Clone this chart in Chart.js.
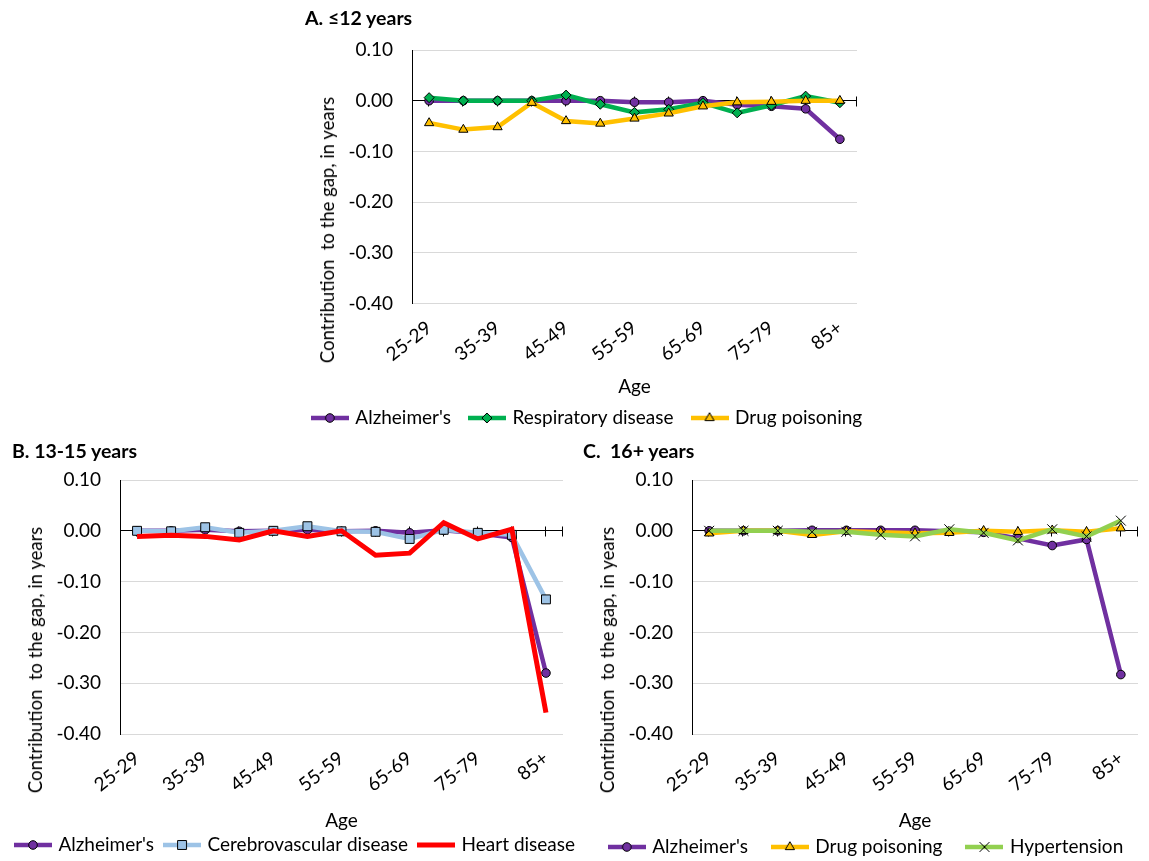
<!DOCTYPE html>
<html>
<head>
<meta charset="utf-8">
<script src="https://cdn.jsdelivr.net/npm/chart.js@4.4.1/dist/chart.umd.min.js"></script>
<style>
  html, body { margin: 0; padding: 0; background: #fff; overflow: hidden; }
  #page { position: relative; width: 1149px; height: 861px; overflow: hidden; }
  canvas { position: absolute; }
  .ptitle { position: absolute; font: bold 19.5px Lato, "Liberation Sans", sans-serif; line-height: 20px; white-space: pre; color: #000; }
  .ytitle { position: absolute; font: 18.5px Lato, "Liberation Sans", sans-serif; line-height: 20px; white-space: pre; color: #000;
            transform: translate(-50%, -50%) rotate(-90deg); }
</style>
</head>
<body>
<div id="page">
  <canvas id="chartA" width="600" height="440" style="left:288px; top:0px;"></canvas>
  <canvas id="chartB" width="592" height="440" style="left:0px; top:430px;"></canvas>
  <canvas id="chartC" width="600" height="440" style="left:567px; top:430px;"></canvas>

  <div class="ptitle" style="left:305px; top:8px;">A. ≤12 years</div>
  <div class="ptitle" style="left:12px; top:441px;">B. 13-15 years</div>
  <div class="ptitle" style="left:583px; top:441px;">C.  16+ years</div>

  <div class="ytitle" style="left:327px; top:230px;">Contribution  to the gap, in years</div>
  <div class="ytitle" style="left:35px; top:660px;">Contribution  to the gap, in years</div>
  <div class="ytitle" style="left:607px; top:660px;">Contribution  to the gap, in years</div>
</div>

<script>
// Age groups on the horizontal axis (every other one is labelled)
const ageGroups = ['25-29', '30-34', '35-39', '40-44', '45-49', '50-54', '55-59',
                   '60-64', '65-69', '70-74', '75-79', '80-84', '85+'];

// Panel A: ≤12 years of schooling
const alzheimerA   = [0.000, 0.000, 0.000, 0.000, 0.000, 0.000, -0.003, -0.003, 0.000, -0.008, -0.011, -0.016, -0.076];
const respiratoryA = [0.006, 0.000, 0.000, 0.000, 0.011, -0.007, -0.023, -0.017, -0.004, -0.024, -0.009, 0.009, -0.004];
const drugA        = [-0.044, -0.057, -0.052, -0.004, -0.040, -0.045, -0.035, -0.025, -0.011, -0.003, -0.002, 0.000, 0.000];

// Panel B: 13-15 years
const alzheimerB   = [0.000, 0.000, 0.002, -0.001, 0.000, 0.002, -0.001, 0.000, -0.004, 0.001, -0.005, -0.013, -0.280];
const cerebroB     = [0.000, -0.001, 0.007, -0.004, 0.000, 0.009, -0.001, -0.002, -0.016, 0.002, -0.004, -0.008, -0.135];
const heartB       = [-0.011, -0.009, -0.011, -0.018, 0.000, -0.011, 0.000, -0.048, -0.044, 0.016, -0.016, 0.003, -0.358];

// Panel C: 16+ years
const alzheimerC    = [0.000, 0.000, 0.000, 0.001, 0.001, 0.001, 0.001, -0.001, -0.003, -0.015, -0.029, -0.017, -0.283];
const drugC         = [-0.005, 0.000, 0.000, -0.008, -0.001, -0.003, -0.005, -0.004, 0.000, -0.002, 0.001, -0.002, 0.005];
const hypertensionC = [0.000, 0.000, 0.000, -0.002, -0.002, -0.008, -0.011, 0.003, -0.004, -0.019, 0.003, -0.011, 0.020];

// Value axis range
const yMin = -0.40, yMax = 0.10, yStep = 0.10;

const FONT = 'Lato, "Liberation Sans", sans-serif';
const FONT_SIZE = 19;
const ROTATION = 38;

// Line / marker looks per cause of death
const LOOK = {
  alzheimer:    { color: '#7030A0', width: 4.5, point: 'circle',   radius: 4.3 },
  respiratory:  { color: '#00B050', width: 4.5, point: 'rectRot',  radius: 5 },
  drug:         { color: '#FFC000', width: 4.5, point: 'triangle', radius: 5.3 },
  cerebro:      { color: '#9DC3E6', width: 4.5, point: 'rect',     radius: 6.3 },
  heart:        { color: '#FF0000', width: 5,   point: null,       radius: 0 },
  hypertension: { color: '#92D050', width: 4.5, point: 'crossRot', radius: 7 }
};

// Marker outline used for the legend samples (same geometry as the chart points)
function markerPath(g, type, x, y, r, fill) {
  g.beginPath();
  if (type === 'circle') {
    g.arc(x, y, r, 0, Math.PI * 2);
  } else if (type === 'rectRot') {
    g.moveTo(x - r, y); g.lineTo(x, y - r); g.lineTo(x + r, y); g.lineTo(x, y + r); g.closePath();
  } else if (type === 'triangle') {
    for (let k = 0; k < 3; k++) {
      const a = k * 2 * Math.PI / 3;
      const px = x + Math.sin(a) * r, py = y - Math.cos(a) * r;
      if (k === 0) g.moveTo(px, py); else g.lineTo(px, py);
    }
    g.closePath();
  } else if (type === 'rect') {
    const s = r * Math.SQRT1_2;
    g.rect(x - s, y - s, 2 * s, 2 * s);
  } else if (type === 'crossRot') {
    const s = r * Math.SQRT1_2;
    g.moveTo(x - s, y - s); g.lineTo(x + s, y + s);
    g.moveTo(x + s, y - s); g.lineTo(x - s, y + s);
  }
  if (type !== 'crossRot') { g.fillStyle = fill; g.fill(); }
  g.strokeStyle = '#000'; g.lineWidth = 1; g.stroke();
}

const SAMPLE_W = 38;
function legendSample(look) {
  const c = document.createElement('canvas');
  c.width = SAMPLE_W; c.height = 16;
  const g = c.getContext('2d');
  g.strokeStyle = look.color; g.lineWidth = look.width;
  g.beginPath(); g.moveTo(0, 8); g.lineTo(SAMPLE_W, 8); g.stroke();
  if (look.point) markerPath(g, look.point, SAMPLE_W / 2, 8, look.radius, look.color);
  return c;
}

// Black zero line tick marks of the category axis
const zeroTicks = {
  id: 'zeroTicks',
  beforeDatasetsDraw(chart) {
    const { ctx, chartArea } = chart;
    const xs = chart.scales.x, ys = chart.scales.y;
    const y0 = Math.round(ys.getPixelForValue(0)) + 0.5;
    const pos = ageGroups.map((_, i) => xs.getPixelForValue(i));
    pos.push(chartArea.right);
    ctx.save();
    ctx.strokeStyle = '#000';
    ctx.lineWidth = 1;
    ctx.beginPath();
    pos.forEach(px => {
      const p = Math.round(px) - 0.5;
      ctx.moveTo(p, y0 - 5); ctx.lineTo(p, y0 + 5);
    });
    ctx.stroke();
    ctx.restore();
  }
};

function makeChart(p) {
  const samples = p.series.map(s => legendSample(s.look));
  const n = p.series.length;
  return new Chart(document.getElementById(p.id), {
    type: 'line',
    data: {
      labels: ageGroups,
      datasets: p.series.map((s, i) => ({
        label: s.label,
        data: s.values,
        xAxisID: 'x',
        yAxisID: 'y',
        borderColor: s.look.color,
        backgroundColor: s.look.color,
        borderWidth: s.look.width,
        pointStyle: s.look.point || false,
        pointRadius: s.look.point ? s.look.radius : 0,
        pointHoverRadius: s.look.point ? s.look.radius : 0,
        pointBackgroundColor: s.look.color,
        pointBorderColor: '#000',
        pointBorderWidth: 1,
        tension: 0,
        fill: false,
        order: n - i
      }))
    },
    options: {
      responsive: false,
      animation: false,
      devicePixelRatio: 1,
      events: [],
      layout: { padding: { left: 0, right: 0, top: p.top, bottom: p.legendBottom } },
      scales: {
        x: {
          type: 'category',
          offset: true,
          grid: { display: false },
          border: { display: false },
          ticks: {
            autoSkip: false,
            minRotation: ROTATION,
            maxRotation: ROTATION,
            padding: p.xTickPad,
            color: '#000',
            font: { family: FONT, size: FONT_SIZE },
            callback: (v, i) => (i % 2 === 0 ? ageGroups[i] : '')
          },
          title: {
            display: true,
            text: 'Age',
            color: '#000',
            font: { family: FONT, size: FONT_SIZE },
            padding: { top: 0, bottom: p.agePad }
          },
          afterFit: s => { s.height = p.xHeight; }
        },
        y: {
          position: 'left',
          min: yMin,
          max: yMax,
          ticks: {
            stepSize: yStep,
            padding: 19,
            color: '#000',
            font: { family: FONT, size: FONT_SIZE },
            callback: v => (Math.abs(v) < 1e-9 ? 0 : v).toFixed(2)
          },
          grid: {
            drawTicks: false,
            lineWidth: 1,
            color: c => (Math.abs(c.tick.value) < 1e-9 ? '#000' : '#D9D9D9')
          },
          border: { display: true, color: '#000', width: 1 },
          afterFit: s => { s.width = p.yWidth; }
        },
        yR: {
          position: 'right',
          grid: { display: false, drawTicks: false },
          border: { display: false },
          ticks: { display: false },
          afterFit: s => { s.width = p.rightPad; }
        }
      },
      plugins: {
        tooltip: { enabled: false },
        legend: {
          position: 'bottom',
          align: 'center',
          labels: {
            usePointStyle: true,
            pointStyleWidth: 32,
            padding: p.legendGap,
            color: '#000',
            font: { family: FONT, size: FONT_SIZE },
            generateLabels: chart => chart.data.datasets.map((ds, i) => ({
              text: ds.label,
              pointStyle: samples[i],
              datasetIndex: i,
              hidden: false,
              lineWidth: 0,
              strokeStyle: 'rgba(0,0,0,0)',
              fillStyle: 'rgba(0,0,0,0)',
              fontColor: '#000'
            }))
          }
        }
      }
    },
    plugins: [zeroTicks]
  });
}

// Legend text centre = canvas height - legendBottom - 19.5 ; legend top = centre - legendGap - 9.5
makeChart({
  id: 'chartA', top: 50, legendBottom: 2.5, legendGap: 20, xHeight: 85, agePad: -10, xTickPad: 5,
  yWidth: 124, rightPad: 31,
  series: [
    { label: "Alzheimer's", values: alzheimerA, look: LOOK.alzheimer },
    { label: 'Respiratory disease', values: respiratoryA, look: LOOK.respiratory },
    { label: 'Drug poisoning', values: drugA, look: LOOK.drug }
  ]
});

makeChart({
  id: 'chartB', top: 50, legendBottom: 5.5, legendGap: 12, xHeight: 89.5, agePad: -9, xTickPad: 5,
  yWidth: 120, rightPad: 29,
  series: [
    { label: "Alzheimer's", values: alzheimerB, look: LOOK.alzheimer },
    { label: 'Cerebrovascular disease', values: cerebroB, look: LOOK.cerebro },
    { label: 'Heart disease', values: heartB, look: LOOK.heart }
  ]
});

makeChart({
  id: 'chartC', top: 50, legendBottom: 3.5, legendGap: 26, xHeight: 77.5, agePad: -21, xTickPad: 5,
  yWidth: 125, rightPad: 29,
  series: [
    { label: "Alzheimer's", values: alzheimerC, look: LOOK.alzheimer },
    { label: 'Drug poisoning', values: drugC, look: LOOK.drug },
    { label: 'Hypertension', values: hypertensionC, look: LOOK.hypertension }
  ]
});
</script>
</body>
</html>
